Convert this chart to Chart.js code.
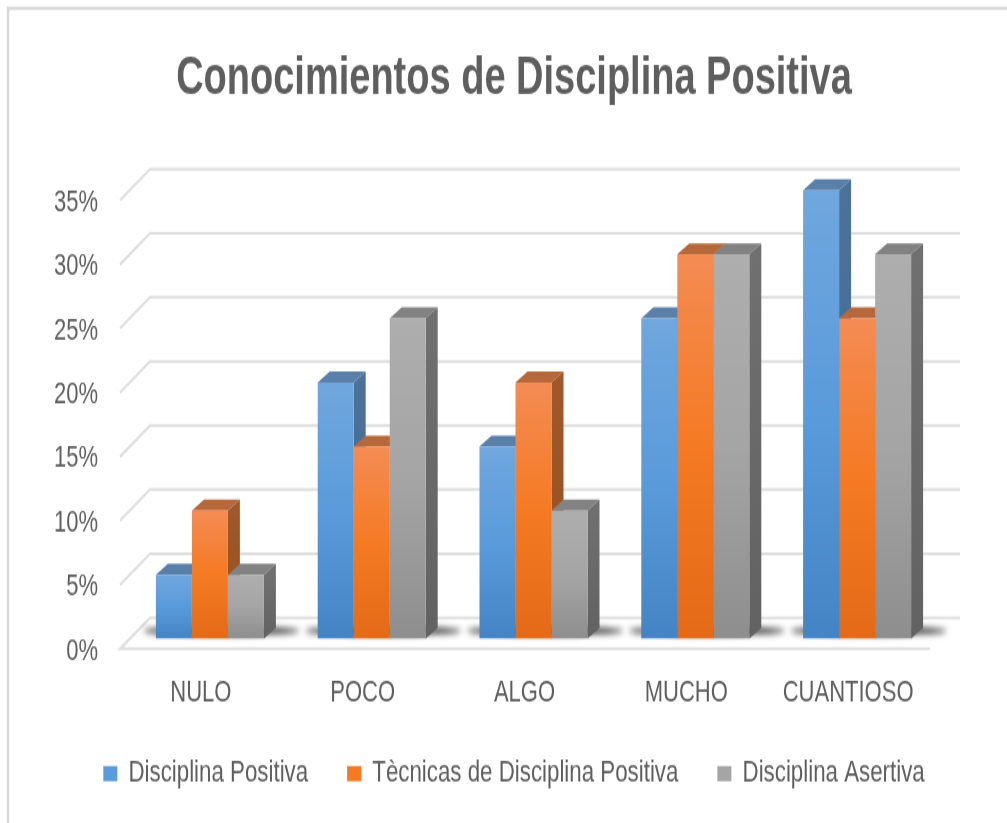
<!DOCTYPE html>
<html><head><meta charset="utf-8">
<style>
html,body{margin:0;padding:0;background:#fff;overflow:hidden}
canvas{display:block;width:1007px!important;height:823px!important;filter:blur(.5px)}
</style>
<script src="https://cdn.jsdelivr.net/npm/chart.js@4/dist/chart.umd.min.js"></script>
</head><body><canvas id="c"></canvas>
<script>
const chartTitle = "Conocimientos de Disciplina Positiva";
const categories = ["NULO","POCO","ALGO","MUCHO","CUANTIOSO"];
const seriesNames = ["Disciplina Positiva","Tècnicas de Disciplina Positiva","Disciplina Asertiva"];
const disciplinaPositiva = [5,20,15,25,35];
const tecnicas = [10,15,20,30,25];
const asertiva = [5,25,10,30,30];
const yTicksMax = 35, yTicksStep = 5;

const S = 1.38;            // vertical stretch of the picture
const FONT = '"Liberation Sans Narrow","Liberation Sans",sans-serif';
const TXT = '#5e5e5e';
const DX = 12, DY = 11/S;
const palette = [
 {stops:['#70a7de','#5a9bdb','#4484c4'], top:'#5a80aa', side:['#4d7299','#3d6a95']},
 {stops:['#f48c54','#f57a23','#e36a17'], top:'#b7683b', side:['#a0582c','#96501c']},
 {stops:['#aeaeae','#a5a5a5','#8e8e8e'], top:'#828282', side:['#707070','#626262']}
];
const canvas = document.getElementById('c');
canvas.width = 1007; canvas.height = Math.round(823/S);

function faceFill(c){
  const ds = c.datasetIndex, chart = c.chart, y = chart.scales.y;
  if(c.type!=='data' || !y || y.bottom===undefined) return palette[ds].stops[1];
  const g = chart.ctx.createLinearGradient(0,y.getPixelForValue(c.raw),0,y.getPixelForValue(0));
  const st = palette[ds].stops;
  g.addColorStop(0,st[0]); g.addColorStop(.5,st[1]); g.addColorStop(1,st[2]);
  return g;
}
const scene = {
  id:'scene',
  afterLayout(chart){ chart.scales.x.bottom += 30; },
  beforeDraw(chart){
    const ctx = chart.ctx, y = chart.scales.y, x0 = 120, x1 = 150, xEnd = 960, xF = 930;
    ctx.save();
    ctx.fillStyle='#fff'; ctx.fillRect(0,0,chart.width,chart.height);
    ctx.strokeStyle='#d9d9d9'; ctx.lineWidth=2.5;
    ctx.beginPath(); ctx.moveTo(8,chart.height+5); ctx.lineTo(8,6); ctx.lineTo(chart.width+5,6); ctx.stroke();
    ctx.strokeStyle='#dedede'; ctx.lineWidth=2;
    const fo = 10/S, bo = 21/S;
    y.ticks.forEach(t=>{
      const p = y.getPixelForValue(t.value);
      ctx.beginPath();
      if(t.value===0){ ctx.moveTo(xF,p+fo); ctx.lineTo(x0,p+fo); ctx.lineTo(x1,p-bo); ctx.lineTo(xEnd,p-bo); }
      else { ctx.moveTo(x0,p+fo); ctx.lineTo(x1,p-bo); ctx.lineTo(xEnd,p-bo); }
      ctx.stroke();
    });
    ctx.restore();
  },
  beforeDatasetsDraw(chart){
    const ctx = chart.ctx;
    const metas = chart.data.datasets.map((_,i)=>chart.getDatasetMeta(i));
    ctx.save();
    categories.forEach((_,k)=>{
      const a = metas[0].data[k], b = metas[2].data[k];
      const l = a.x-a.width/2-13, r = b.x+b.width/2+36, base = a.base;
      ctx.save();
      ctx.filter='blur(2.5px)'; ctx.fillStyle='#2a2a2a';
      ctx.beginPath();
      ctx.ellipse((l+r)/2, base-8/S, (r-l)/2, 4/S,0,0,Math.PI*2);
      ctx.fill();
      ctx.restore();
    });
    categories.forEach((_,k)=>{
      metas.forEach((m,ds)=>{
        const e = m.data[k], l=e.x-e.width/2, r=e.x+e.width/2, t=e.y, b=e.base, p=palette[ds];
        ctx.fillStyle=p.top;
        ctx.beginPath(); ctx.moveTo(l,t); ctx.lineTo(r,t); ctx.lineTo(r+DX,t-DY); ctx.lineTo(l+DX,t-DY); ctx.closePath(); ctx.fill();
        const g = ctx.createLinearGradient(0,t,0,b); g.addColorStop(0,p.side[0]); g.addColorStop(1,p.side[1]);
        ctx.fillStyle=g;
        ctx.beginPath(); ctx.moveTo(r,t); ctx.lineTo(r+DX,t-DY); ctx.lineTo(r+DX,b-DY); ctx.lineTo(r,b); ctx.closePath(); ctx.fill();
      });
    });
    ctx.restore();
  }
};
const mk = (label,data)=>({label,data,backgroundColor:faceFill,borderWidth:0,barPercentage:.999,categoryPercentage:108/161.75});
new Chart(canvas,{
  type:'bar',
  data:{labels:categories,datasets:[mk(seriesNames[0],disciplinaPositiva),mk(seriesNames[1],tecnicas),mk(seriesNames[2],asertiva)]},
  plugins:[scene],
  options:{
    responsive:false,animation:false,
    layout:{padding:{left:21,right:0,top:0,bottom:14.7}},
    scales:{
      x:{grid:{display:false,drawTicks:false},border:{display:false},
         ticks:{color:TXT,font:{family:FONT,size:22},padding:26,labelOffset:-9,maxRotation:0,autoSkip:false},
         afterFit(s){s.height=47.4;}},
      y:{min:0,max:yTicksMax,grid:{display:false,drawTicks:false},border:{display:false},
         ticks:{stepSize:yTicksStep,color:TXT,font:{family:FONT,size:22},padding:31,labelOffset:12.5/S,callback:v=>v+'%'},
         afterFit(s){s.width=108;}},
      rightGap:{position:'right',display:true,grid:{display:false,drawTicks:false},border:{display:false},
         ticks:{display:false},afterFit(s){s.width=69;}}
    },
    plugins:{
      tooltip:{enabled:false},
      title:{display:true,text:chartTitle,color:TXT,font:{family:FONT,size:38,weight:'bold'},padding:{top:35,bottom:57.1}},
      legend:{position:'bottom',labels:{color:TXT,font:{family:FONT,size:22.3},boxWidth:14,boxHeight:11,padding:39,
        generateLabels(chart){
          return seriesNames.map((n,i)=>({text:n,fillStyle:palette[i].stops[1],strokeStyle:'rgba(0,0,0,0)',lineWidth:0,fontColor:TXT,datasetIndex:i}));
        }}}
    }
  }
});
</script></body></html>
